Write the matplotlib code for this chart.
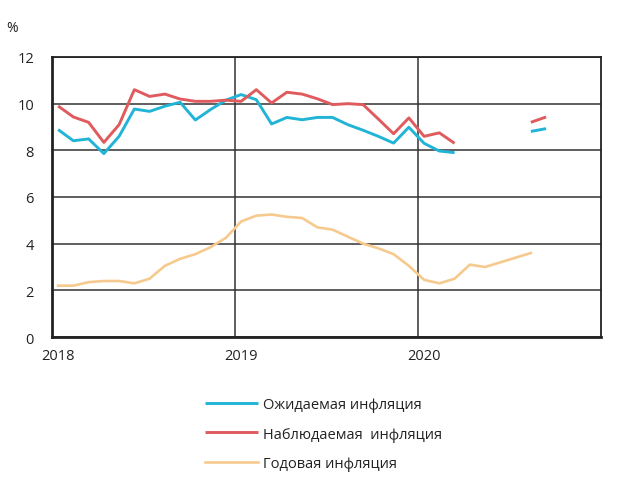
import numpy as np
import matplotlib
matplotlib.use("Agg")
import matplotlib.pyplot as plt

plt.rcParams['font.family'] = ['Open Sans', 'DejaVu Sans']

# monthly data starting Jan 2018
expected = [8.89, 8.41, 8.49, 7.86, 8.6, 9.77, 9.67, 9.89, 10.06, 9.3, 9.75, 10.15,
            10.39, 10.17, 9.13, 9.41, 9.31, 9.41, 9.41, 9.1, 8.86, 8.6, 8.31, 8.99,
            8.3, 7.97, 7.9, np.nan, np.nan, np.nan, np.nan, 8.81, 8.93]
observed = [9.9, 9.43, 9.2, 8.34, 9.1, 10.6, 10.31, 10.41, 10.2, 10.1, 10.1, 10.15,
            10.1, 10.6, 10.03, 10.49, 10.41, 10.21, 9.96, 10.0, 9.96, 9.34, 8.71, 9.39,
            8.6, 8.75, 8.3, np.nan, np.nan, np.nan, np.nan, 9.2, 9.43]
annual = [2.2, 2.2, 2.35, 2.4, 2.4, 2.3, 2.5, 3.05, 3.35, 3.55, 3.85, 4.25,
          4.95, 5.2, 5.25, 5.15, 5.1, 4.7, 4.6, 4.3, 4.0, 3.8, 3.55, 3.05,
          2.45, 2.3, 2.5, 3.1, 3.0, 3.2, 3.4, 3.6]
labels = ['Ожидаемая инфляция', 'Наблюдаемая  инфляция', 'Годовая инфляция']
year_ticks = [2018, 2019, 2020]
y_ticks = [0, 2, 4, 6, 8, 10, 12]

colors = ['#22b4d6', '#e05b5e', '#f6ca8e']

x_exp = 2018 + (np.arange(len(expected)) + 0.4) / 12
x_obs = 2018 + (np.arange(len(observed)) + 0.4) / 12
x_ann = 2018 + (np.arange(len(annual)) + 0.4) / 12

fig = plt.figure(figsize=(6.2, 4.89), dpi=100)
ax = fig.add_axes([52/620, 1-338/489, (601-52)/620, (338-58)/489])

ax.plot(x_exp, expected, color=colors[0], lw=2.1, label=labels[0], solid_capstyle='butt')
ax.plot(x_obs, observed, color=colors[1], lw=2.1, label=labels[1], solid_capstyle='butt')
ax.plot(x_ann, annual, color=colors[2], lw=1.9, label=labels[2])

ax.set_xlim(2018, 2021)
ax.set_ylim(0, 12)
ax.set_yticks(y_ticks)
ax.set_yticklabels([str(v) for v in y_ticks], fontsize=10.5, color='#222222')
ax.tick_params(axis='y', length=0, pad=13)

ax.set_xticks(year_ticks)
ax.set_xticklabels([])
ax.tick_params(axis='x', which='major', length=0)
ax.set_xticks([y + 0.4/12 for y in year_ticks], minor=True)
ax.set_xticklabels([str(y) for y in year_ticks], minor=True, fontsize=10.5, color='#222222')
ax.tick_params(axis='x', which='minor', length=0, pad=8)

ax.grid(True, which='major', color='#333333', lw=1.1)
ax.set_axisbelow(True)
for s in ax.spines.values():
    s.set_color('#222222')
    s.set_linewidth(1.3)
ax.spines['left'].set_linewidth(2)
ax.spines['bottom'].set_linewidth(2)

fig.text(12.5/620, 1-29/489, '%', fontsize=10, color='#222222', ha='center', va='center')

leg = fig.legend(loc='upper left', bbox_to_anchor=(205/620, 1-398/489), frameon=False,
                 fontsize=10.5, handlelength=3.6, handletextpad=0.35, labelspacing=1.0,
                 borderaxespad=0, borderpad=0)
for t in leg.get_texts():
    t.set_color('#222222')

fig.savefig('out.png', dpi=100)
